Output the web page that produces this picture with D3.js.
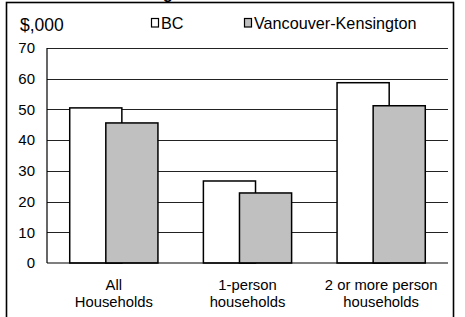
<!DOCTYPE html>
<html>
<head>
<meta charset="utf-8">
<script src="https://cdn.jsdelivr.net/npm/d3@7"></script>
<style>
  body { margin: 0; background: #fff; }
  svg { display: block; font-family: Arial, "Liberation Sans", sans-serif; }
</style>
</head>
<body>
<div id="chart"></div>
<script>
// chart data
const categories = [["All", "Households"], ["1-person", "households"], ["2 or more person", "households"]];
const seriesNames = ["BC", "Vancouver-Kensington"];
const bcValues = [50.5, 26.7, 58.7];
const vkValues = [45.6, 22.8, 51.2];
const yTicks = [0, 10, 20, 30, 40, 50, 60, 70];
const seriesColors = ["#ffffff", "#c0c0c0"];

const width = 465, height = 317;
const margin = { top: 48, right: 17, bottom: 54, left: 47 };

const svg = d3.select("#chart").append("svg")
    .attr("width", width)
    .attr("height", height);

// outer frame (runs off the bottom of the picture)
svg.append("rect")
    .attr("x", 6.5).attr("y", 2.5)
    .attr("width", 447).attr("height", 340)
    .attr("fill", "none")
    .attr("stroke", "#000")
    .attr("stroke-width", 1.6);

// title, mostly clipped above the frame
svg.append("text")
    .attr("x", 119).attr("y", -1)
    .style("font-size", "16px")
    .style("font-weight", "bold")
    .text("Average Household Income");

const x = d3.scaleBand()
    .domain(d3.range(categories.length))
    .range([margin.left, width - margin.right]);

const y = d3.scaleLinear()
    .domain([0, 70])
    .range([height - margin.bottom, margin.top]);

// gridlines
svg.append("g")
  .selectAll("line")
  .data(yTicks.slice(1))
  .join("line")
    .attr("x1", margin.left).attr("x2", width - margin.right)
    .attr("y1", d => Math.round(y(d)) + 0.5)
    .attr("y2", d => Math.round(y(d)) + 0.5)
    .attr("stroke", "#222")
    .attr("stroke-width", 1);

// y tick labels
svg.append("g")
    .attr("text-anchor", "end")
    .style("font-size", "15px")
  .selectAll("text")
  .data(yTicks)
  .join("text")
    .attr("x", 35)
    .attr("y", d => y(d))
    .attr("dy", "0.35em")
    .text(d => d);

// bars: BC first, Vancouver-Kensington overlapping on top
const barW = x.bandwidth() * 0.39;
const offsets = [-x.bandwidth() * 0.33, -x.bandwidth() * 0.06];
[bcValues, vkValues].forEach((vals, s) => {
  svg.append("g")
    .selectAll("rect")
    .data(vals)
    .join("rect")
      .attr("x", (d, i) => x(i) + x.bandwidth() / 2 + offsets[s])
      .attr("y", d => y(d))
      .attr("width", barW)
      .attr("height", d => y(0) - y(d))
      .attr("fill", seriesColors[s])
      .attr("stroke", "#000")
      .attr("stroke-width", 1.5);
});

// axes lines
svg.append("line")
    .attr("x1", margin.left).attr("x2", width - margin.right)
    .attr("y1", y(0)).attr("y2", y(0))
    .attr("stroke", "#000").attr("stroke-width", 1.2);
svg.append("line")
    .attr("x1", margin.left).attr("x2", margin.left)
    .attr("y1", y(70)).attr("y2", y(0))
    .attr("stroke", "#000").attr("stroke-width", 1.2);

// category labels
const catLabels = svg.append("g")
    .attr("text-anchor", "middle")
    .style("font-size", "14.8px")
  .selectAll("text")
  .data(categories)
  .join("text")
    .attr("x", (d, i) => x(i) + x.bandwidth() / 2)
    .attr("y", 290);
catLabels.selectAll("tspan")
  .data(d => d)
  .join("tspan")
    .attr("x", function() { return this.parentNode.getAttribute("x"); })
    .attr("dy", (d, i) => i ? 17 : 0)
    .text(d => d);

// unit label
svg.append("text")
    .attr("x", 20).attr("y", 31)
    .style("font-size", "17.5px")
    .text("$,000");

// legend
const legendX = [151, 244];
seriesNames.forEach((name, s) => {
  svg.append("rect")
      .attr("x", legendX[s] + 0.5).attr("y", 18.5)
      .attr("width", 7).attr("height", 8.5)
      .attr("fill", seriesColors[s])
      .attr("stroke", "#000")
      .attr("stroke-width", 1.2);
  svg.append("text")
      .attr("x", legendX[s] + 10).attr("y", 28.5)
      .style("font-size", "16.2px")
      .text(name);
});
</script>
</body>
</html>
